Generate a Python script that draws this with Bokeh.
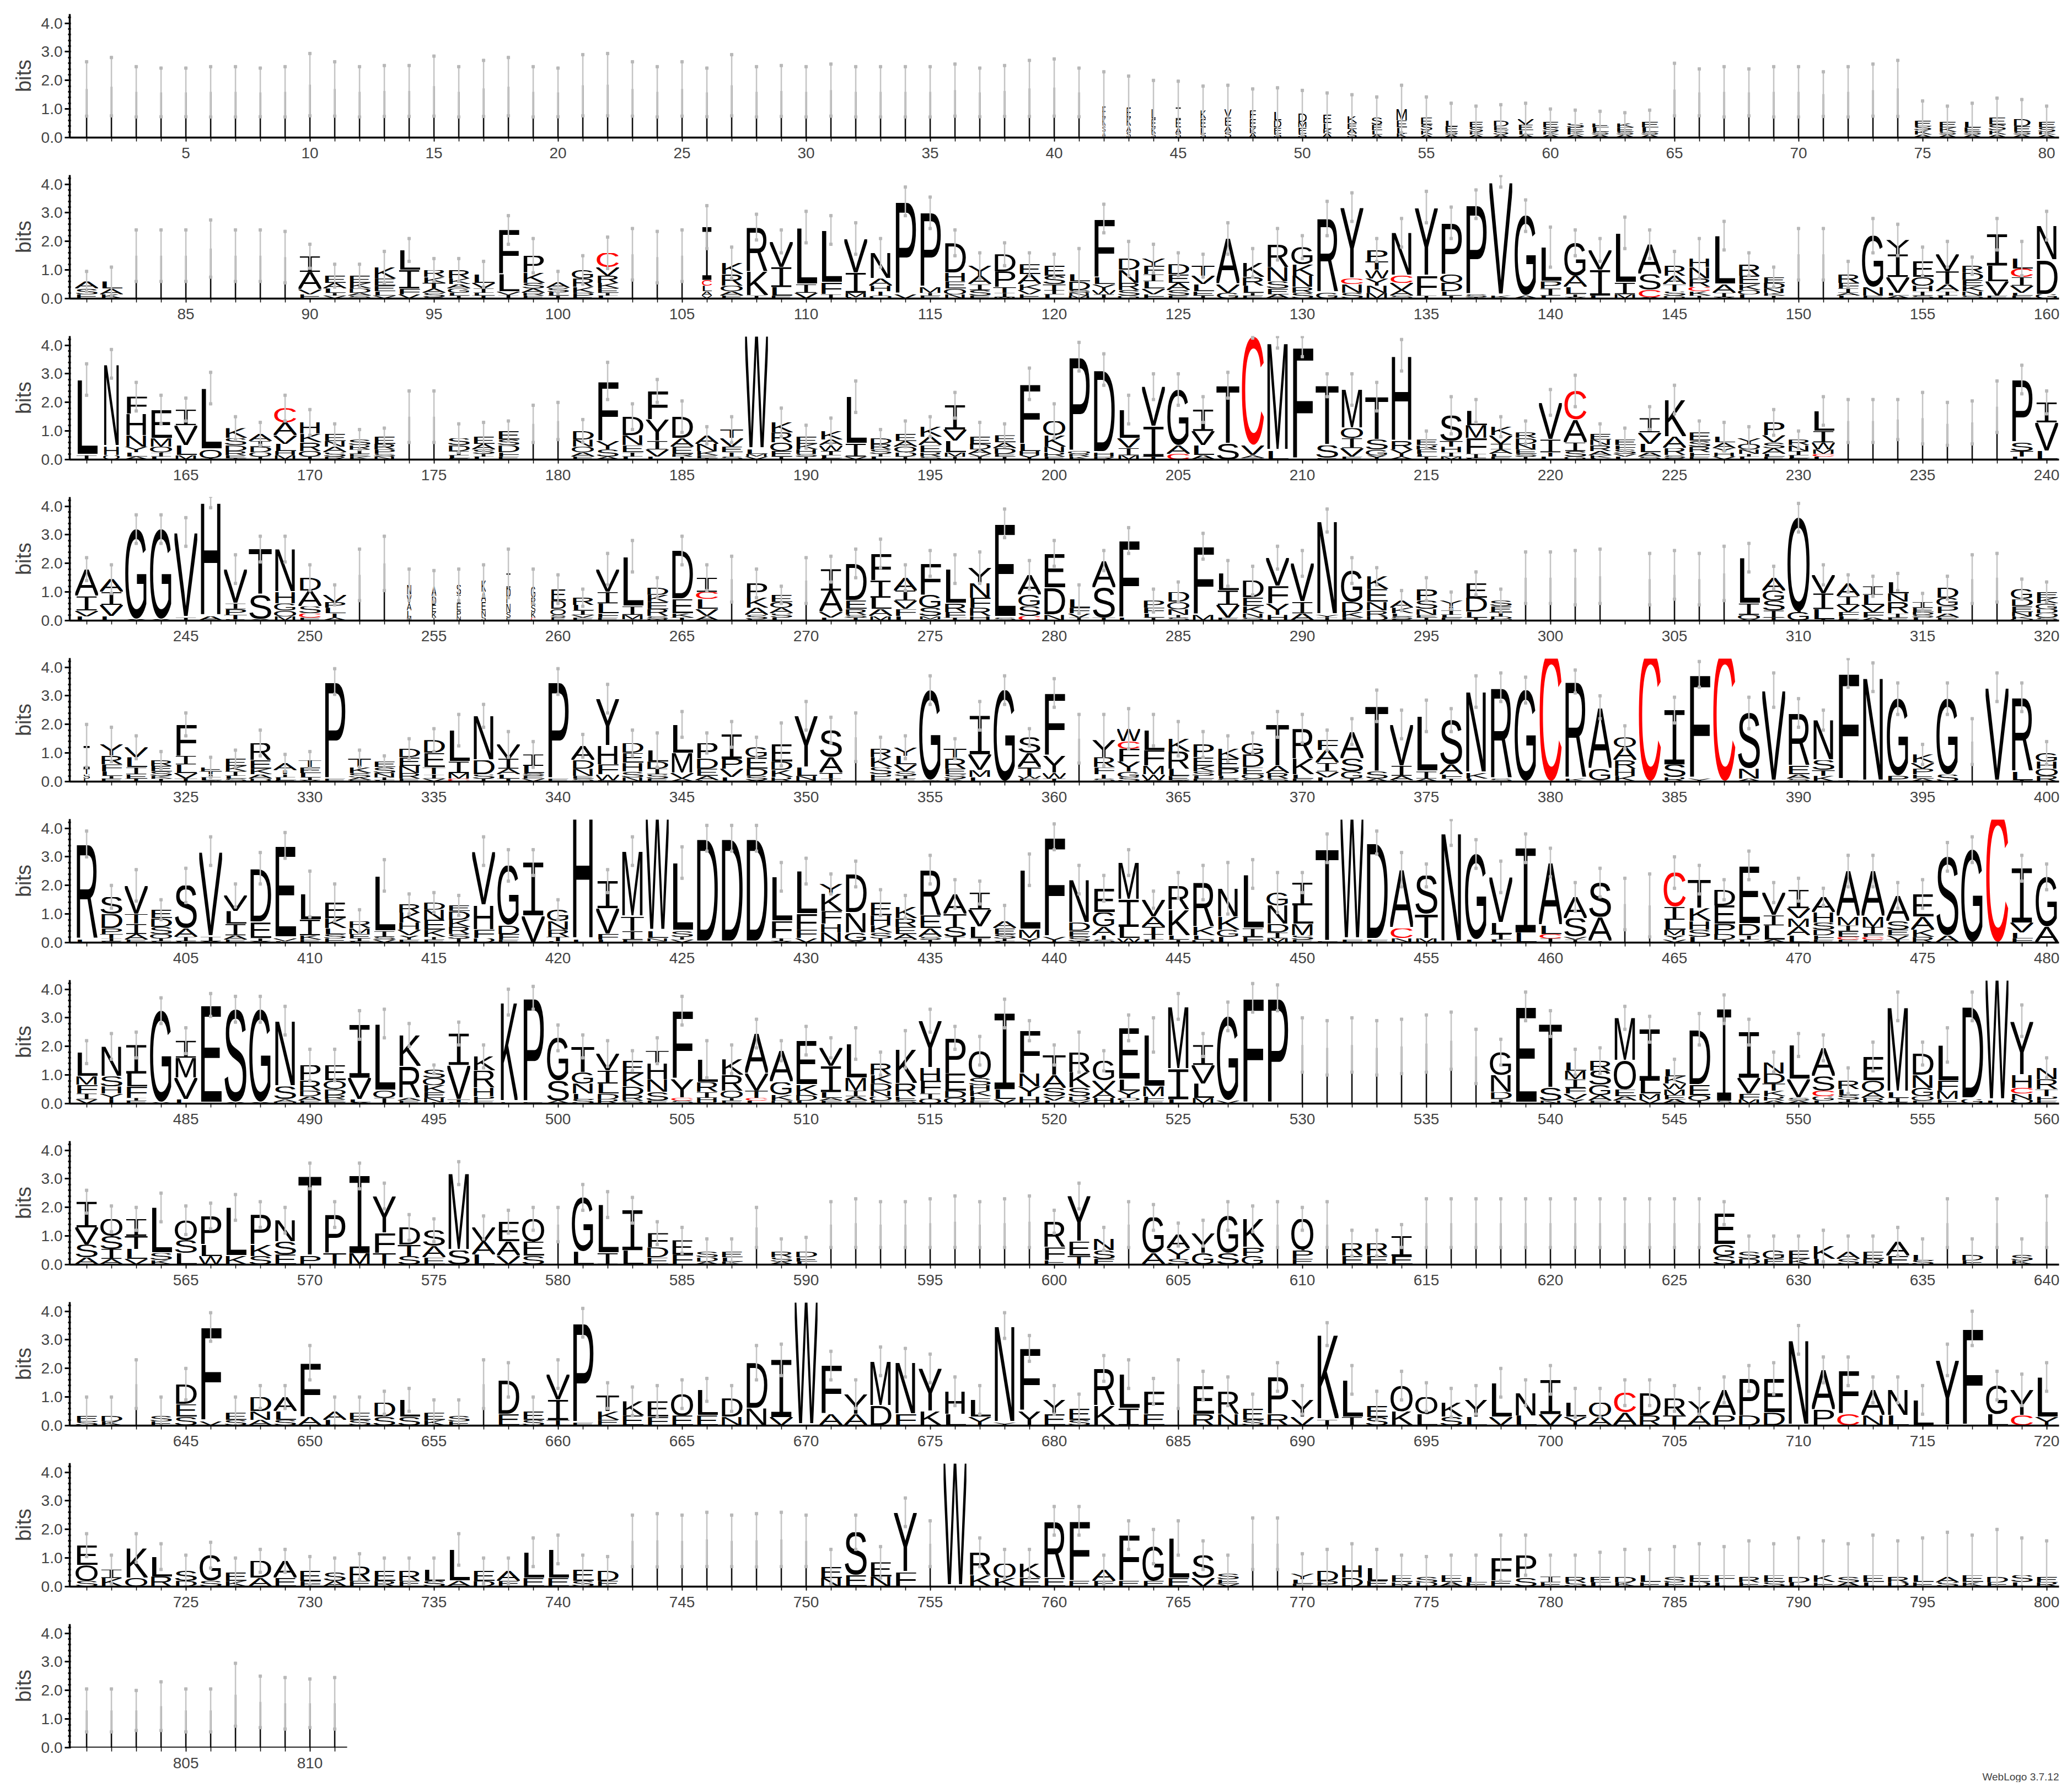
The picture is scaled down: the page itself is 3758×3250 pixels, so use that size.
import urllib.parse
from bokeh.plotting import figure
from bokeh.layouts import column
from bokeh.models import Range1d, FixedTicker, PrintfTickFormatter, ColumnDataSource, Title
from bokeh.embed import file_html
from bokeh.resources import INLINE

# Each position: letters top-first "Xh", "~h" = gap sliver of height h, "@f" = stack width fraction, "^t" = error bar top
ROW01 = [
 "~1.7 ^2.65","~1.78 ^2.8","~1.6 ^2.48","~1.58 ^2.43","~1.58 ^2.43","~1.6 ^2.48","~1.6 ^2.48","~1.58 ^2.43","~1.6 ^2.48","~1.85 ^2.94",
 "~1.7 ^2.65","~1.6 ^2.48","~1.63 ^2.52","~1.63 ^2.52","~1.8 ^2.85","~1.6 ^2.48","~1.72 ^2.7","~1.78 ^2.8","~1.6 ^2.48","~1.58 ^2.43",
 "~1.83 ^2.9","~1.85 ^2.94","~1.7 ^2.65","~1.6 ^2.48","~1.7 ^2.65","~1.58 ^2.43","~1.83 ^2.9","~1.6 ^2.48","~1.63 ^2.52","~1.6 ^2.48",
 "~1.66 ^2.57","~1.6 ^2.48","~1.6 ^2.48","~1.6 ^2.48","~1.6 ^2.48","~1.66 ^2.57","~1.58 ^2.43","~1.63 ^2.52","~1.72 ^2.7","~1.75 ^2.75",
 "~1.58 ^2.43","E.4 K.3 S.2 A.2 @.15 ^2.3","E.35 K.3 A.2 S.2 @.2 ^2.15","L.35 E.3 K.2 S.15 @.2 ^2.0","I.4 E.3 A.2 S.15 @.25 ^1.97",
 "K.3 E.3 L.2 S.15 @.25 ^1.8","V.3 E.3 A.2 S.2 @.3 ^1.83","F.3 E.3 K.2 A.15 @.3 ^1.7","L.3 D.25 E.2 S.15 @.35 ^1.74","D.3 M.2 E.2 S.15 @.4 ^1.65",
 "E.3 L.2 K.15 A.15 @.4 ^1.56","K.25 E.2 A.15 S.15 @.45 ^1.5","S.25 E.2 L.15 A.1 @.5 ^1.42","M.4 E.25 L.2 K.15 @.5 ^1.83","E.25 S.2 K.15 A.1 @.55 ^1.42",
 "L.2 E.2 S.1 A.1 @.6 ^1.2","E.2 S.15 K.1 A.1 @.65 ^1.1","D.2 E.15 S.15 A.1 @.7 ^1.15","V.2 E.2 L.15 A.1 @.7 ^1.2","E.2 S.15 K.1 A.1 @.75 ^1.0",
 "S.15 E.15 K.1 A.1 @.8 ^.96","E.15 L.15 S.1 A.1 @.8 ^.92","K.15 E.15 S.1 A.1 @.8 ^.87","E.2 L.15 S.1 A.1 @.8 ^.96","~1.68 ^2.6",
 "~1.58 ^2.4","~1.6 ^2.48","~1.58 ^2.4","~1.6 ^2.48","~1.6 ^2.48",
 "~1.52 ^2.3","~1.6 ^2.48","~1.66 ^2.57","~1.72 ^2.7","E.2 S.15 K.15 A.1 @.8 ^1.28",
 "E.2 K.15 S.1 A.1 @.8 ^1.1","L.2 E.15 S.1 A.1 @.8 ^1.2","E.25 S.2 K.15 A.1 @.8 ^1.38","D.25 E.2 S.1 A.1 @.8 ^1.33","E.2 S.15 K.1 A.1 @.8 ^1.1",
]
ROW02 = [
 "A.25 S.2 E.15 ^.95","L.25 A.2 K.15 ^1.1","~1.5 ^2.4","~1.5 ^2.4","~1.5 ^2.4",
 "~1.75 ^2.75","~1.5 ^2.4","~1.5 ^2.4","~1.45 ^2.35","I.55 A.6 V.18 E.15 ^1.9",
 "E.25 A.2 L.15 I.1 V.1 ^1.2","E.25 K.2 D.15 A.1 S.1 ^1.2","K.4 E.25 E.2 L.15 V.1 ^1.65","L.7 I.65 F.2 V.15 ^2.1","R.25 K.2 T.2 A.15 S.15 E.05 ^1.4",
 "R.3 K.2 A.15 G.15 L.1 I.1 ^1.4","L.3 V.2 I.15 L.1 T.1 ^1.3","F1.55 L.6 V.12 I.13 ^2.9","P.6 K.35 S.2 A.15 R.1 E.1 ^2.1","A.2 S.15 L.12 I.1 ^.95",
 "G.3 R.3 K.2 P.15 E.05 ^1.5","C.5 V.3 R.25 K.2 E.15 I.1 L.1 ^2.15","~1.55 ^2.45","~1.45 ^2.35","~1.5 ^2.4",
 "I1.85 C.2 L.2 A.15 V.1 @.45 ^3.25","K.4 R.4 Q.2 A.15 E.1 ^1.8","R1.55 K.85 I.1 ^2.95","V.9 I.7 L.3 E.1 ^2.4","L2.0 I.3 V.2 ^3.05",
 "L1.85 F.4 I.15 ^2.9","V1.2 I.7 M.15 L.05 ^2.65","N.9 A.25 H.2 T.15 Q.1 ^2.1","P3.25 V.15 ^3.9","P2.6 M.2 I.1 E.1 ^3.55",
 "D1.05 H.3 E.25 Q.2 N.15 ^2.4","Y.35 A.3 I.2 S.2 E.1 ^1.6","D.6 P.55 T.2 I.15 M.05 ^1.95","E.35 A.35 K.2 V.15 E.15 ^1.6","E.35 S.3 T.2 I.15 L.15 ^1.55",
 "L.25 D.3 S.1 N.1 M.1 ^1.75","F2.05 L.25 Y.2 W.15 I.15 ^3.3","D.4 N.45 R.25 S.2 G.1 ^2.0","Y.25 F.3 I.25 L.25 V.2 F.15 ^1.9","D.35 E.3 A.25 S.2 E.1 ^1.6",
 "T.35 V.3 L.25 E.15 I.1 ^1.55","A1.6 V.3 G.2 ^2.65","K.5 R.3 L.25 I.1 E.1 ^1.75","R.8 N.5 S.25 E.2 A.15 ^2.45","G.6 K.4 N.4 R.2 S.2 ^2.2",
 "R2.6 G.2 ^3.4","Y2.5 C.2 N.3 S.2 ^3.7","P.4 T.3 W.3 Y.25 N.25 M.2 ^2.1","N1.5 C.25 V.25 A.2 S.1 ^2.8","Y2.4 F.7 I.1 ^3.75",
 "P1.8 Q.3 D.3 L.15 I.1 ^3.2","P3.15 S.1 I.05 ^3.8","V4.0 K.1 ^4.3","G2.8 A.1 ^3.45","L1.2 P.25 I.25 L.1 ^2.5",
 "G1.15 A.4 L.25 I.1 V.05 ^2.4","V.7 I.9 L.1 ^2.1","L1.75 I.4 M.15 ^2.85","A1.05 S.55 C.25 A.05 ^2.4","R.35 A.3 T.25 S.15 G.1 ^1.65",
 "H.3 N.4 R.3 C.15 K.15 I.1 ^2.1","L1.7 A.3 I.15 V.05 ^2.7","R.4 E.3 K.2 Q.15 L.15 ^1.6","E.2 D.2 N.15 K.1 I.1 ^1.1","~1.55 ^2.45",
 "~1.55 ^2.45","R.3 F.2 I.15 A.1 L.1 ^1.3","G1.8 N.3 E.1 ^2.8","Y.5 I.8 V.55 L.1 A.1 ^2.6","E.55 Q.3 H.2 I.15 S.1 ^1.8",
 "V.6 T.45 A.25 I.15 L.1 ^2.0","R.25 D.25 E.2 K.2 N.15 S.1 ^1.45","I1.1 L.55 V.5 E.1 ^2.8","L.35 C.3 I.3 V.25 L.1 E.1 ^2.0","N1.2 D1.2 G.15 ^3.05",
]
ROW03 = [
 "L2.65 I.15 ^3.35","N2.9 H.3 Q.15 @.75 ^3.85","F.6 H.75 N.4 Y.2 L.15 A.1 ^2.7","E1.0 M.3 Q.2 I.15 L.1 ^2.25","I.55 V.7 L.35 M.15 ^2.15",
 "L2.15 Q.3 I.05 ^3.05","K.35 S.25 D.2 R.15 E.1 I.05 ^1.5","A.25 I.2 D.2 Q.15 I.1 ^1.3","C.5 A.45 V.3 L.25 H.15 M.15 ^2.25","H.4 K.3 R.3 Q.2 I.1 ^1.75",
 "E.25 N.2 A.2 S.15 R.1 ^1.25","S.2 R.15 I.15 E.1 K.1 ^1.05","E.25 R.2 P.15 S.1 N.1 ^1.1","~1.5 ^2.4","~1.5 ^2.4",
 "S.25 D.2 I.15 L.1 E.05 ^1.25","E.25 A.2 S.15 I.1 L.1 ^1.3","E.3 S.2 D.25 F.15 E.1 ^1.35","~1.25 ^1.9","~1.35 ^2.0",
 "D.3 N.25 Q.2 A.15 E.1 ^1.4","F2.1 Y.3 S.25 A.1 ^3.4","D.65 N.35 E.25 I.15 L.1 ^1.95","F1.0 Y.75 I.3 V.25 L.1 ^2.8","D.75 A.3 E.25 R.1 I.1 ^2.05",
 "A.3 N.25 K.15 E.1 I.05 ^1.15","T.3 V.3 E.2 T.15 S.1 ^1.5","W4.25 L.15 M.1 V.1 ^4.45","K.35 R.35 Q.3 E.2 I.1 ^1.8","E.25 K.2 H.15 S.1 I.1 ^1.2",
 "K.3 A.2 W.2 I.15 L.1 E.05 ^1.45","L1.65 I.45 V.1 ^2.75","D.2 R.2 S.15 I.1 L.1 ^1.05","E.25 A.2 Q.2 D.15 I.1 ^1.35","K.35 A.3 E.25 R.15 S.1 ^1.5",
 "I.85 V.4 L.4 M.15 I.1 ^2.35","E.25 D.2 A.15 V.1 I.1 ^1.3","E.25 A.2 D.2 E.1 I.1 ^1.25","F2.1 L.25 H.15 Y.15 ^3.2","Q.5 K.4 N.2 R.15 E.1 ^1.95",
 "P3.3 Q.1 R.1 K.1 ^4.1","D2.9 H.15 R.1 ^3.7","L1.0 V.35 I.25 M.15 ^2.25","V1.4 I1.05 T.1 ^3.0","G1.95 A.3 C.2 ^3.0",
 "I.75 V.5 L.35 A.15 ^2.2","T2.05 S.55 ^3.05","C3.8 V.35 A.1 S.05 ^4.35","M3.8 L.3 ^4.3","F3.95 ^4.3",
 "T2.1 S.45 E.05 ^3.0","M1.35 Q.35 I.35 V.3 E.1 ^3.0","T1.5 S.35 G.2 Y.15 ^2.7","H3.0 R.3 Y.25 A.1 ^4.2","E.2 R.15 F.15 L.1 I.1 ^1.0",
 "S.9 T.2 H.2 I.15 M.1 ^2.2","L.5 M.45 F.55 I.15 L.05 ^2.1","K.3 V.3 I.2 A.15 L.1 E.1 ^1.5","R.2 D.2 N.2 E.15 S.1 I.1 ^1.35","V1.3 I.45 T.15 L.1 ^2.45",
 "C1.0 A.8 I.3 S.2 G.1 ^2.95","E.2 N.2 R.2 A.15 K.1 L.05 ^1.25","E.2 F.15 S.15 V.1 L.1 ^1.1","I.5 V.4 L.3 A.15 S.1 ^1.85","K1.3 A.4 R.25 S.1 E.05 ^2.6",
 "E.3 S.2 R.2 F.15 E.1 ^1.35","L.2 A.2 Y.15 H.15 V.1 ^1.3","Y.2 Q.2 N.15 I.1 L.1 ^1.15","P.45 V.25 S.2 A.2 L.1 E.1 ^1.75","R.2 N.2 I.15 L.1 E.05 ^1.0",
 "L.7 I.4 W.25 M.15 C.1 L.1 ^2.2","~1.35 ^2.1","~1.35 ^2.1","~1.4 ^2.1","~1.45 ^2.35",
 "~1.25 ^2.0","~1.3 ^2.05","~1.85 ^2.75","P2.2 S.3 T.2 L.1 ^3.3","I.7 V1.0 L.3 ^2.4",
]
ROW04 = [
 "A.95 I.5 V.2 L.15 ^2.2","A.45 I.45 V.4 L.15 ^1.95","G3.15 A.05 ^3.7","G3.15 A.05 ^3.7","V3.0 I.1 ^3.6",
 "H4.0 A.15 ^4.35","V1.2 I.2 P.2 T.15 E.05 ^2.3","T1.6 S.85 A.05 ^2.95","N1.5 H.4 G.25 Q.2 M.15 ^2.95","D.45 A.55 S.25 C.15 E.1 ^1.95",
 "V.25 P.2 L.2 T.15 A.1 ^1.25","~1.6 ^2.5","~2.0 ^2.95","N.35 V.3 A.25 L.2 M.15 @.2 ^1.8","A.35 D.3 E.25 K.2 I.1 @.2 ^1.75",
 "S.35 I.3 E.25 P.2 N.15 @.2 ^1.8","K.4 A.35 E.3 N.2 S.15 @.2 ^1.95","I.5 P.55 N.3 S.2 E.1 @.2 ^2.5","G.4 R.25 S.25 K.2 C.1 @.2 ^1.8","E.4 D.3 Q.2 S.1 E.1 @.7 ^1.6",
 "R.25 L.2 I.15 V.1 E.1 ^1.1","V.8 I.4 L.35 F.15 E.1 ^2.35","L1.75 I.3 M.15 S.05 ^2.8","D.25 K.25 E.25 R.25 S.1 N.05 ^1.5","D1.7 E.5 K.15 T.1 ^2.95",
 "I.5 C.25 L.35 V.25 A.15 ^1.95","~1.45 ^2.25","P.5 K.35 A.25 S.15 L.05 ^1.8","E.25 Q.2 A.2 S.15 L.1 ^1.2","~1.4 ^2.2",
 "I.75 A.75 V.2 L.1 ^2.25","D1.3 E.3 R.2 S.1 T.1 ^2.5","F.95 I.6 L.4 A.25 M.15 ^2.85","A.45 I.35 V.3 F.25 L.15 ^1.95","F1.1 G.45 S.3 M.1 V.05 ^2.45",
 "L1.2 R.3 F.2 T.1 ^2.3","Y.55 N.5 F.35 R.3 H.15 ^2.4","E3.3 S.1 ^3.9","A.7 G.4 S.35 C.15 ^2.1","E1.2 D.95 N.2 ^2.8",
 "L.3 F.2 V.15 I.1 ^1.25","A.95 S1.05 T.1 ^2.45","F2.7 L.1 ^3.25","P.25 F.2 L.15 I.1 ^1.1","D.35 Q.25 N.2 I.1 S.1 ^1.35",
 "F2.4 M.2 ^3.05","L.6 I.5 V.45 E.1 ^2.1","D.6 E.3 K.25 N.15 S.1 ^1.9","V1.0 F.6 Y.4 H.2 ^2.6","V1.35 I.4 A.25 ^2.45",
 "N3.3 Y.1 I.1 ^3.9","G1.1 D.35 K.2 E.1 ^2.2","K.45 E.45 N.3 R.2 D.15 ^1.85","A.25 K.2 L.1 S.1 E.05 ^1.05","P.4 S.3 N.2 E.1 I.1 ^1.5",
 "Y.2 T.15 I.15 L.1 E.1 ^1.0","E.5 D.5 L.2 T.1 ^1.7","S.2 E.2 T.15 D.1 Q.05 ^1.1","~1.5 ^2.4","~1.5 ^2.4",
 "~1.5 ^2.45","~1.55 ^2.5","","~1.45 ^2.35","~1.6 ^2.45",
 "~1.45 ^2.35","~1.65 ^2.6","L1.6 I.4 Q.15 V.05 ^2.7","A.45 G.35 S.35 I.25 T.1 ^1.9","Q3.3 G.3 ^4.1",
 "V.65 I.55 L.35 T.05 ^1.95","A.45 I.3 V.25 F.15 L.1 E.05 ^1.6","I.3 L.35 V.25 F.2 A.1 ^1.55","L.4 N.3 R.4 I.15 E.1 ^1.65","I.2 E.15 D.1 S.1 L.1 ^.95",
 "D.35 G.3 P.25 A.15 E.1 ^1.55","~1.45 ^2.3","~1.5 ^2.35","G.35 D.25 E.2 N.15 K.1 Q.05 ^1.45","E.2 K.2 G.2 D.15 Q.15 S.1 ^1.35",
]
ROW05 = [
 "I.8 T.2 S.15 L.1 @.3 ^2.0","Y.4 R.3 F.25 L.15 I.1 E.1 ^1.9","V.35 L.35 I.25 E.15 T.1 ^1.6","R.2 E.2 S.15 K.1 I.1 ^1.05","F1.1 I.3 L.3 V.2 T.1 ^2.4",
 "E.15 T.1 I.1 L.1 S.05 ^.85","E.25 K.2 I.15 L.1 S.1 ^1.1","R.6 E.3 K.2 A.15 D.1 ^1.8","A.25 T.15 I.1 L.1 E.05 ^.95","T.25 E.2 L.15 I.1 V.05 ^1.05",
 "P3.4 E.1 ^3.95","T.3 K.2 S.15 A.1 E.05 ^1.1","E.2 S.2 N.15 I.1 L.05 ^.9","D.3 E.3 N.25 R.2 E.1 ^1.5","D.45 E.5 T.25 I.15 V.1 ^1.85",
 "L1.1 I.4 M.2 C.1 ^2.35","N1.55 D.5 S.15 I.1 ^2.7","V.5 I.35 A.2 L.15 T.1 ^1.75","I.4 L.25 S.1 E.1 V.1 ^1.4","P3.4 E.1 ^3.95",
 "A.5 D.3 N.25 E.1 S.1 ^1.65","Y1.65 H.65 F.35 W.2 E.05 ^3.4","D.35 E.35 H.3 S.2 N.15 ^1.8","L.4 D.25 I.2 S.15 E.1 ^1.7","L1.0 M.7 V.2 A.1 ^2.45",
 "P.55 D.35 E.25 A.15 L.05 ^1.7","I.85 P.35 V.3 L.15 ^2.1","G.35 E.4 D.25 S.15 A.05 ^1.55","E.6 D.3 K.25 R.15 ^2.05","Y1.8 L.3 N.15 H.05 ^2.8",
 "S.95 A.55 T.2 I.1 ^2.25","~1.55 ^2.4","R.3 K.35 S.25 P.15 E.1 ^1.55","Y.3 L.3 V.25 S.15 I.1 E.1 ^1.6","G3.15 S.05 ^3.7",
 "T.35 R.35 E.2 S.15 K.1 ^1.5","I1.35 V.55 M.25 L.15 ^2.8","G3.2 ^3.7","S.55 A.5 T.3 W.1 E.1 ^1.85","F2.2 Y.6 W.2 T.1 ^3.6",
 "~1.5 ^2.35","Y.6 R.35 F.25 T.15 S.1 ^2.35","W.45 C.25 F.45 Y.35 G.2 S.15 ^2.55","L.7 F.55 M.3 W.2 E.05 ^2.35","K.45 R.6 L.25 E.15 S.05 ^2.1",
 "P.45 E.3 K.2 S.15 L.1 E.1 ^1.75","K.35 E.35 P.25 L.1 S.1 ^1.6","G.4 D.45 E.25 Q.15 S.1 ^1.7","T1.45 A.25 R.2 S.1 ^2.45","R1.05 K.55 L.15 E.1 ^2.35",
 "F.35 A.45 I.3 V.2 L.15 ^1.8","A.95 S.45 G.25 T.1 ^2.2","T2.3 S.25 A.1 ^3.2","V1.45 I.35 A.15 L.05 ^2.5","L1.95 I.25 A.1 ^2.85",
 "S1.55 A.35 F.15 I.1 ^2.55","N2.85 K.2 L.1 ^3.7","R3.2 S.1 ^3.8","G3.2 ^3.65","C4.6 ^4.5",
 "R3.4 K.1 ^3.9","A2.15 G.4 S.05 ^3.0","Q.35 A.45 R.3 H.25 K.2 ^1.95","C4.6 ^4.5","I1.9 S.45 R.15 ^2.95",
 "F3.65 Y.1 ^4.2","C4.6 ^4.5","S1.95 N.35 A.1 ^2.95","V3.2 ^3.8","R1.85 E.3 A.15 S.1 ^2.9",
 "N1.4 S.35 T.2 K.2 ^2.5","F3.75 I.05 ^4.3","N3.65 ^4.15","G2.7 P.2 ^3.45","K.3 V.2 P.2 E.15 A.1 ^1.3",
 "G2.65 S.25 ^3.45","~1.4 ^2.2","V3.3 ^3.8","R2.6 L.3 I.05 ^3.45","G.3 H.25 Q.25 R.2 ^1.4",
]
ROW06 = [
 "R3.35 L.1 ^3.9","S.6 D.5 P.2 T.15 I.1 E.05 ^2.0","V1.0 T.35 I.35 A.2 E.1 ^2.55","E.3 D.3 S.25 Q.15 I.1 L.05 ^1.5","S1.5 A.3 I.15 L.05 ^2.6",
 "V3.0 I.15 A.05 ^3.7","V.55 L.45 I.4 A.15 E.1 ^2.05","D1.9 E.55 I.1 A.05 ^3.15","E3.25 V.1 L.05 ^3.85","L.9 I.55 K.15 E.1 ^2.5",
 "E.55 K.35 L.2 S.15 E.15 ^2.05","R.25 M.2 E.15 I.1 L.05 ^1.15","L1.95 I.2 S.1 V.1 ^2.9","R.3 K.35 H.25 V.2 Y.15 E.1 ^1.7","D.25 N.35 E.35 K.25 I.1 E.1 ^1.75",
 "E.2 D.3 K.25 R.25 S.15 I.15 ^1.65","V1.9 H.85 F.3 D.15 ^3.7","G2.1 D.3 F.2 E.1 ^3.25","I1.85 V.95 ^3.25","G.4 N.3 R.25 T.15 L.05 ^1.5",
 "H4.5 L.1 ^4.4","I.95 V.9 F.2 L.1 ^2.55","M2.3 T.5 I.3 F.1 ^3.7","W4.2 L.25 N.1 S.05 ^4.4","L2.4 S.2 I.1 V.1 ^3.35",
 "D3.65 ^4.1","D3.65 ^4.1","D3.65 ^4.1","L1.55 F.6 I.1 V.05 ^2.8","L1.5 F.55 F.3 V.15 ^2.95",
 "Y.35 K.6 F.45 H.3 N.35 ^2.4","D1.35 N.7 G.3 A.05 ^2.85","E.45 H.35 K.25 S.2 T.15 ^1.85","K.4 R.3 E.25 A.2 I.1 ^1.65","R1.6 E.45 A.3 S.1 I.1 ^3.05",
 "A.7 T.45 S.35 I.2 ^2.2","I.6 V.6 L.4 I.15 ^2.15","A.25 E.2 S.15 I.1 L.05 ^1.3","L2.1 M.3 Y.15 ^3.1","F3.5 Y.2 ^4.15",
 "N1.5 D.3 E.2 S.15 I.05 ^2.7","E.85 G.5 A.3 T.15 S.1 ^2.35","M1.3 I.95 L.4 W.15 ^3.25","V.6 A.35 T.25 I.2 L.1 ^1.8","R.85 K.9 L.15 I.1 ^2.45",
 "R1.55 K.3 L.15 Q.1 ^2.7","N1.0 K.45 G.25 L.2 ^2.8","L1.9 I.3 F.2 ^2.9","G.45 N.65 D.3 I.2 M.15 ^2.45","I.8 L.65 M.4 S.15 E.1 ^2.45",
 "T3.25 F.05 ^3.8","W4.5 F.1 ^4.4","D3.4 F.1 ^3.9","A2.05 C.35 N.15 ^3.15","S1.35 T.85 M.15 ^2.75",
 "N3.85 ^4.3","G3.0 L.1 ^3.6","V1.6 L.4 I.2 L.1 ^2.85","I2.95 L.35 ^3.8","A2.2 L.3 C.15 I.15 ^3.3",
 "A.75 S.65 V.1 I.1 ^2.1","S1.2 A.85 I.05 ^2.6","~1.35 ^2.25","~1.3 ^2.4","C1.2 I.45 L.35 M.2 Y.15 V.1 ^3.0",
 "T1.0 K.45 H.3 S.25 L.2 ^2.7","D.55 E.65 P.35 D.2 I.1 ^2.2","E2.05 D.4 I.15 L.1 ^3.2","V.8 I.35 L.5 A.1 ^2.1","I.65 V.35 M.3 A.3 L.25 ^2.25",
 "A.55 H.35 S.25 D.2 F.15 E.1 ^1.9","A1.6 M.3 I.2 E.2 C.1 E.1 ^3.05","A1.6 M.35 I.25 F.1 C.1 E.1 ^3.05","A.9 S.3 E.2 V.15 T.1 ^2.1","E.8 A.45 K.25 R.2 ^2.2",
 "S2.75 A.25 ^3.5","G3.25 ^3.7","C4.6 ^4.4","I1.9 V.35 L.2 F.15 ^3.05","G1.75 A.55 ^2.75",
]
ROW07 = [
 "L.85 M.3 F.3 I.2 V.15 ^2.2","N1.05 S.35 H.25 Y.2 T.15 ^2.45","I1.0 L.45 F.4 I.1 E.1 ^2.5","G3.2 V.05 ^3.7","I.6 M.7 V.75 L.15 ^2.65",
 "E3.45 ^3.85","S3.25 A.05 ^3.75","G3.25 A.05 ^3.75","N2.3 S.45 A.1 Q.05 ^3.4","P.55 R.35 D.2 A.15 E.1 ^1.9",
 "E.55 Q.3 D.2 R.15 E.1 F.05 ^1.9","I1.85 V.75 L.1 A.05 ^3.25","L2.35 Q.25 I.2 ^3.3","K1.1 R1.1 A.1 E.1 ^2.8","S.3 Q.25 K.25 E.2 N.15 I.05 ^1.35",
 "I1.1 V1.2 T.1 E.05 ^2.85","K.5 R.6 H.3 P.15 E.1 ^2.05","K3.5 L.05 @.8 ^4.0","P3.65 E.05 ^4.1","G1.5 S.7 A.1 ^2.75",
 "T.9 G.4 N.35 L.2 S.15 ^2.4","V.6 I.45 L.35 D.2 R.15 ^2.2","E.45 K.45 D.3 R.2 S.1 ^1.85","T.45 H.55 N.45 S.3 E.1 ^2.3","F2.4 Y.65 C.1 S.1 ^3.75",
 "L.8 R.35 I.2 H.15 E.05 ^2.2","K.55 R.55 Q.25 I.1 E.1 ^2.05","A1.4 V.6 T.25 C.1 L.1 ^2.95","A1.1 G.45 K.2 D.1 ^2.2","E1.55 K.35 D.2 L.1 ^2.7",
 "V.65 I.9 L.2 A.1 F.1 ^2.3","L1.2 M.45 I.2 A.15 F.1 ^2.65","R.4 K.3 D.25 N.2 Q.15 E.1 ^1.8","K1.2 R.45 E.15 S.1 ^2.55","Y1.65 H.45 F.45 I.2 Q.15 ^3.3",
 "P1.25 E.6 D.25 Q.2 ^2.7","Q.95 S.25 H.2 K.2 F.15 E.1 ^2.35","I2.65 L.35 V.15 ^3.65","F1.5 N.45 Y.35 H.25 ^2.9","T.7 A.45 S.3 V.15 L.1 ^2.05",
 "R.7 K.55 S.3 D.15 V.1 ^2.5","G.7 V.35 A.25 H.2 ^1.85","E1.8 L.4 Y.25 Q.1 L.1 ^3.1","L1.8 M.35 F.15 E.1 ^3.0","M2.2 I1.05 L.15 ^3.85",
 "I.7 V.65 L.5 M.2 ^2.45","G2.95 V.1 ^3.55","F3.7 ^4.2","P3.7 ^4.15","~2.05 ^3.0",
 "~1.95 ^2.9","~2.05 ^3.0","~1.95 ^2.9","~2.0 ^2.95","~2.1 ^3.1",
 "~2.2 ^3.2","~1.65 ^2.6","G.8 N.6 D.25 I.1 E.05 ^2.25","E3.4 ^3.9","T2.25 S.45 N.1 ^3.25",
 "L.3 M.3 I.3 F.2 V.2 Y.15 ^1.9","R.35 S.5 G.35 A.2 E.1 ^1.95","M1.5 Q1.0 E.25 A.15 L.1 ^3.4","I1.8 L.45 M.2 V.15 ^3.05","L.25 K.25 W.2 M.2 E.15 A.15 ^1.55",
 "D1.95 E.35 Q.2 I.1 ^3.15","I3.2 S.1 @.7 ^3.8","I1.6 V.55 F.2 M.15 ^2.95","N.4 D.35 T.25 K.2 R.15 A.1 ^1.8","L1.2 V.65 S.1 A.1 ^2.45",
 "A1.0 S.5 C.2 G.15 L.1 ^2.4","R.3 L.2 S.15 I.1 E.05 ^1.25","E.85 Q.4 A.2 R.15 S.05 ^2.15","M3.0 L.2 I.15 E.05 ^3.9","D.75 N.45 G.3 Q.15 E.1 ^2.15",
 "L1.25 F.35 M.3 E.15 ^2.65","D3.25 G.15 ^3.9","W4.5 L.1 ^4.4","Y1.9 H.45 C.2 N.2 Q.15 ^3.45","N.4 R.35 T.25 P.15 E.1 ^1.6",
]
ROW08 = [
 "I.9 V.6 S.45 A.25 ^2.6","Q.6 S.45 I.35 A.2 ^2.05","I.6 T.45 L.35 V.2 ^2.0","L1.6 S.25 K.15 ^2.5","Q.7 S.45 L.4 ^2.05",
 "P1.0 L.4 W.3 ^2.15","L1.7 K.3 ^2.45","P1.05 K.4 S.3 ^2.2","N.75 S.45 E.35 ^2.0","T2.8 P.3 ^3.55",
 "P1.35 T.4 ^2.2","I2.7 M.4 ^3.55","Y1.3 F.7 T.4 ^2.85","D.6 T.4 S.3 ^1.75","S.55 A.4 E.25 ^1.6",
 "M2.7 S.5 ^3.6","V.5 A.45 L.35 ^1.7","E.7 A.5 V.3 ^1.9","Q.8 E.5 S.3 ^2.0","~1.4 ^2.0",
 "G1.9 L.45 ^2.8","L1.7 I.4 ^2.55","I1.4 L.5 ^2.35","F.5 D.35 E.25 ^1.5","E.5 F.35 ^1.3",
 "S.2 D.15 A.1 ^.9","E.2 L.15 K.1 ^.9","~1.3 ^2.0","R.2 S.15 A.1 ^.9","D.2 E.15 L.1 ^.95",
 "~1.4 ^2.2","~1.45 ^2.3","~1.4 ^2.2","~1.4 ^2.2","~1.45 ^2.3",
 "~1.5 ^2.4","~1.4 ^2.2","~1.45 ^2.3","~1.5 ^2.4","R.9 F.45 E.15 ^1.9",
 "Y1.6 E.5 T.3 ^2.85","N.4 S.3 E.2 ^1.3","~1.4 ^2.2","G1.25 A.4 ^2.1","A.5 Y.35 S.2 ^1.45",
 "Y.7 G.4 ^1.55","G1.3 S.4 ^2.2","K1.0 P.3 G.3 ^2.05","~1.4 ^2.2","Q1.1 P.3 E.2 ^2.0",
 "~1.4 ^2.2","R.45 E.3 ^1.2","R.45 E.3 ^1.2","I.7 E.3 ^1.4","~1.45 ^2.3",
 "~1.45 ^2.3","~1.45 ^2.3","~1.45 ^2.3","~1.45 ^2.3","~1.45 ^2.3",
 "~1.45 ^2.3","~1.45 ^2.3","~1.45 ^2.3","~1.45 ^2.3","~1.45 ^2.3",
 "~1.45 ^2.3","E1.1 G.4 S.3 ^2.2","S.25 D.2 ^1.0","G.3 E.2 ^1.0","E.3 K.2 ^1.0",
 "K.45 L.2 ^1.2","A.25 S.2 ^1.0","E.25 R.2 ^1.0","A.5 E.3 ^1.3","L.2 S.15 ^.9",
 "~1.45 ^2.3","D.2 E.15 ^.9","~1.45 ^2.3","S.2 K.15 ^.9","~1.5 ^2.4",
]
ROW09 = [
 "E.2 S.15 ^1.0","D.2 K.15 ^1.0","~1.45 ^2.3","S.2 E.15 ^1.0","D.7 E.45 S.3 ^2.0",
 "F3.3 V.15 ^3.95","E.25 S.2 ^1.0","D.5 N.3 A.2 ^1.4","A.5 L.3 S.2 ^1.4","F1.9 A.3 ^2.8",
 "A.3 L.2 ^1.0","E.25 S.2 ^1.0","D.5 S.3 ^1.2","L.6 S.3 ^1.3","E.25 K.2 ^.9",
 "S.2 E.15 ^.9","~1.45 ^2.3","D1.2 E.4 ^2.2","E.3 S.2 ^1.0","V.9 I.7 T.2 ^2.3",
 "P3.5 E.1 ^4.1","T.55 K.3 E.2 ^1.5","K.5 E.35 ^1.35","E.55 F.3 ^1.4","Q.75 E.35 ^1.6",
 "L.9 E.35 ^1.65","D.65 N.3 ^1.4","D1.6 N.6 ^2.8","I2.0 V.3 ^2.85","W4.5 ^4.4",
 "F1.7 A.4 ^2.6","Y.7 A.4 ^1.6","M1.55 D.7 ^2.75","N1.8 F.4 ^2.7","Y1.5 K.5 ^2.5",
 "H.8 L.4 ^1.7","L.6 Y.3 ^1.4","N3.4 Y.1 ^3.95","F2.2 Y.5 ^3.15","Y.5 E.4 ^1.4",
 "E.4 S.2 ^1.1","R1.3 K.7 ^2.45","L1.2 I.6 ^2.3","F.8 E.4 ^1.65","~1.45 ^2.3",
 "E1.0 R.4 ^1.9","R.8 N.4 ^1.7","E.4 S.2 ^1.1","P1.3 R.4 ^2.2","Y.6 V.3 ^1.4",
 "K3.0 I.2 ^3.6","L1.3 I.3 ^2.1","E.4 S.3 ^1.2","Q.9 K.5 ^1.9","Q.6 L.4 ^1.5",
 "K.5 S.3 ^1.3","Y.6 L.3 ^1.4","L1.2 V.3 ^2.0","N.8 L.35 ^1.6","I1.2 V.4 ^2.1",
 "L.5 Y.3 ^1.3","Q.5 A.3 ^1.3","C.7 A.45 ^1.6","D.8 R.35 ^1.6","R.6 T.35 ^1.4",
 "Y.5 A.35 ^1.3","A.9 P.35 ^1.7","P1.3 D.35 ^2.1","E1.2 D.45 ^2.2","N3.0 ^3.5",
 "A1.4 P.55 ^2.4","F1.5 C.4 ^2.4","A.9 N.35 ^1.7","N.9 L.35 ^1.7","L.9 ^1.4",
 "Y2.3 ^2.85","F3.4 ^4.0","G1.0 L.4 ^1.9","Y.9 C.35 ^1.8","L1.4 Y.3 ^2.2",
]
ROW10 = [
 "E.7 Q.55 S.2 ^1.85","I.3 K.3 ^1.1","K1.05 Q.3 ^1.85","L.7 R.35 ^1.5","S.35 D.2 ^1.1",
 "G.9 S.2 ^1.55","E.3 K.2 ^1.0","D.6 A.3 ^1.3","A.6 E.3 ^1.3","E.35 F.2 ^1.05",
 "S.3 A.2 ^1.0","R.5 E.2 ^1.15","E.35 R.2 ^1.0","R.35 E.2 ^1.0","L.4 S.2 ^1.0",
 "L1.1 A.2 ^1.85","E.35 D.2 ^1.0","A.35 E.2 ^1.0","L.9 E.3 ^1.7","L1.0 E.3 ^1.8",
 "E.4 S.2 ^1.1","D.35 E.2 ^1.05","~1.6 ^2.5","~1.62 ^2.55","~1.6 ^2.5",
 "~1.65 ^2.6","~1.6 ^2.5","~1.62 ^2.55","~1.65 ^2.6","~1.6 ^2.5",
 "E.4 N.3 ^1.3","S1.5 E.4 ^2.5","E.5 N.35 ^1.4","Y2.1 F.5 ^3.1","~1.5 ^2.3",
 "W4.5 ^4.4","R.8 K.4 ^1.7","Q.5 K.3 ^1.3","K.5 E.3 ^1.3","R2.0 E.3 ^2.8",
 "F2.1 E.2 ^2.8","A.4 E.2 ^1.1","F1.6 E.2 ^2.3","G1.2 E.2 ^2.0","L1.4 E.3 ^2.3",
 "S.8 V.3 ^1.6","S.2 E.15 V.1 ^1.1","~1.5 ^2.4","~1.5 ^2.4","Y.2 L.15 E.1 ^1.15",
 "D.35 P.2 ^1.3","H.45 D.3 ^1.5","L.45 E.2 ^1.3","E.25 R.15 ^1.1","S.2 D.15 ^1.05",
 "E.25 A.15 ^1.1","L.2 E.15 ^1.1","F.8 E.2 ^1.8","P.8 S.3 ^1.8","I.2 E.15 ^1.1",
 "R.2 S.15 ^1.1","E.2 L.15 ^1.2","D.2 K.15 ^1.3","L.25 E.15 ^1.3","S.2 E.15 ^1.4",
 "E.25 D.15 ^1.5","F.25 L.15 ^1.4","R.2 E.15 ^1.6","E.25 S.15 ^1.5","D.2 L.15 ^1.7",
 "K.25 E.15 ^1.6","S.2 A.15 ^1.5","E.25 L.15 ^1.8","R.2 D.15 ^1.6","L.25 E.15 ^1.7",
 "A.2 S.15 ^1.9","E.25 K.15 ^1.8","D.2 E.15 ^2.0","S.25 L.15 ^1.7","E.2 R.15 ^1.6",
]
ROW11 = ["~1.3 ^2.05","~1.3 ^2.05","~1.3 ^2.0","~1.45 ^2.3","~1.3 ^2.05",
         "~1.3 ^2.05","~1.85 ^2.95","~1.6 ^2.5","~1.55 ^2.45","~1.55 ^2.4","~1.55 ^2.45"]

ROWS = [ROW01, ROW02, ROW03, ROW04, ROW05, ROW06, ROW07, ROW08, ROW09, ROW10, ROW11]
YMAX = 4.32
FONT = "Liberation Sans"

_cache = {}
def glyph_url(ch):
    color = "#ff0000" if ch == "C" else "#000000"
    if ch in _cache:
        return _cache[ch]
    if ch == "I":
        svg = ("<svg xmlns='http://www.w3.org/2000/svg' width='400' height='400' viewBox='0 0 100 100' "
               "preserveAspectRatio='none'><path d='M6 0H94V9H58V91H94V100H6V91H42V9H6Z' fill='%s'/></svg>" % color)
    else:
        svg = ("<svg xmlns='http://www.w3.org/2000/svg' width='400' height='400' viewBox='45 -700 910 714' "
               "preserveAspectRatio='none'><text x='0' y='0' font-family='Liberation Sans, Arial, sans-serif' "
               "font-size='1000' textLength='1000' lengthAdjust='spacingAndGlyphs' fill='%s'>%s</text></svg>" % (color, ch))
    u = "data:image/svg+xml;charset=utf-8," + urllib.parse.quote(svg)
    _cache[ch] = u
    return u

def parse(tok):
    letters, err, wf, sliver = [], None, 1.0, None
    for part in tok.split():
        c = part[0]
        if c == "^":
            err = float(part[1:])
        elif c == "@":
            wf = float(part[1:])
        elif c == "~":
            sliver = float(part[1:])
        else:
            letters.append((c, float(part[1:])))
    return letters, err, wf, sliver

figs = []
for k, row in enumerate(ROWS):
    start = 1 + 80 * k
    last = (k == len(ROWS) - 1)
    L = dict(x=[], y=[], w=[], h=[], url=[])
    S = dict(x=[], top=[])
    E = dict(x=[], lo=[], hi=[])
    for i, tok in enumerate(row):
        pos = start + i
        letters, err, wf, sliver = parse(tok)
        if sliver is not None:
            S["x"].append(pos); S["top"].append(sliver); top = sliver
        else:
            y = sum(h for _, h in letters); top = y
            for ch, h in letters:
                y -= h
                L["x"].append(pos - 0.46 * wf); L["y"].append(y)
                L["w"].append(0.92 * wf); L["h"].append(h); L["url"].append(glyph_url(ch))
        if err is not None:
            E["x"].append(pos); E["hi"].append(err); E["lo"].append(max(0.0, 2 * top - err))

    p = figure(frame_width=3608, frame_height=224, min_border_left=126, min_border_right=20,
               min_border_top=25 if k == 0 else 16, min_border_bottom=52,
               x_range=Range1d(start - 0.68, start + 79.5), y_range=Range1d(0, YMAX),
               output_backend="svg", toolbar_location=None, tools="")
    p.outline_line_color = None
    p.grid.visible = False
    p.background_fill_color = "white"
    p.border_fill_color = "white"

    p.image_url(url="url", x="x", y="y", w="w", h="h", anchor="bottom_left", source=ColumnDataSource(L))
    p.vbar(x="x", top="top", bottom=0, width=0.035, color="black", source=ColumnDataSource(S))
    es = ColumnDataSource(E)
    p.segment(x0="x", y0="lo", x1="x", y1="hi", line_color="#c4c4c4", line_width=2.5, source=es)
    p.scatter(x="x", y="lo", marker="square", size=5, color="#b8b8b8", source=es)
    p.scatter(x="x", y="hi", marker="square", size=5, color="#b8b8b8", source=es)

    n = len(row)
    xa = p.xaxis[0]
    xa.ticker = FixedTicker(ticks=[t for t in range(start, start + n) if t % 5 == 0],
                            minor_ticks=list(range(start, start + n)))
    xa.major_label_text_font = FONT
    xa.major_label_text_font_size = "28px"
    xa.major_label_standoff = 11
    xa.major_tick_in = 0; xa.major_tick_out = 7
    xa.minor_tick_in = 0; xa.minor_tick_out = 7
    xa.major_tick_line_width = 1.5; xa.minor_tick_line_width = 1.5
    xa.axis_line_width = 3.5
    if last:
        xa.axis_line_color = None
        p.segment(x0=[start - 0.68], y0=[0], x1=[start + n - 0.5], y1=[0], line_color="black", line_width=3.5)
        p.add_layout(Title(text="WebLogo 3.7.12", align="right", text_font=FONT, text_font_size="19px",
                           text_font_style="normal", standoff=0), "below")

    ya = p.yaxis[0]
    ya.ticker = FixedTicker(ticks=[0, 1, 2, 3, 4], minor_ticks=[round(0.2 * j, 1) for j in range(22)])
    ya.formatter = PrintfTickFormatter(format="%.1f")
    ya.major_label_text_font = FONT
    ya.major_label_text_font_size = "28px"
    ya.major_label_standoff = 4
    ya.major_tick_in = 0; ya.major_tick_out = 9
    ya.minor_tick_in = 2; ya.minor_tick_out = 3
    ya.major_tick_line_width = 3; ya.minor_tick_line_width = 3
    ya.axis_line_width = 3.5
    ya.axis_label = "bits"
    ya.axis_label_text_font = FONT
    ya.axis_label_text_font_style = "normal"
    ya.axis_label_text_font_size = "38px"
    ya.axis_label_standoff = 8
    figs.append(p)

layout = column(*figs, spacing=0)
open("out.html", "w").write(file_html(layout, INLINE))
